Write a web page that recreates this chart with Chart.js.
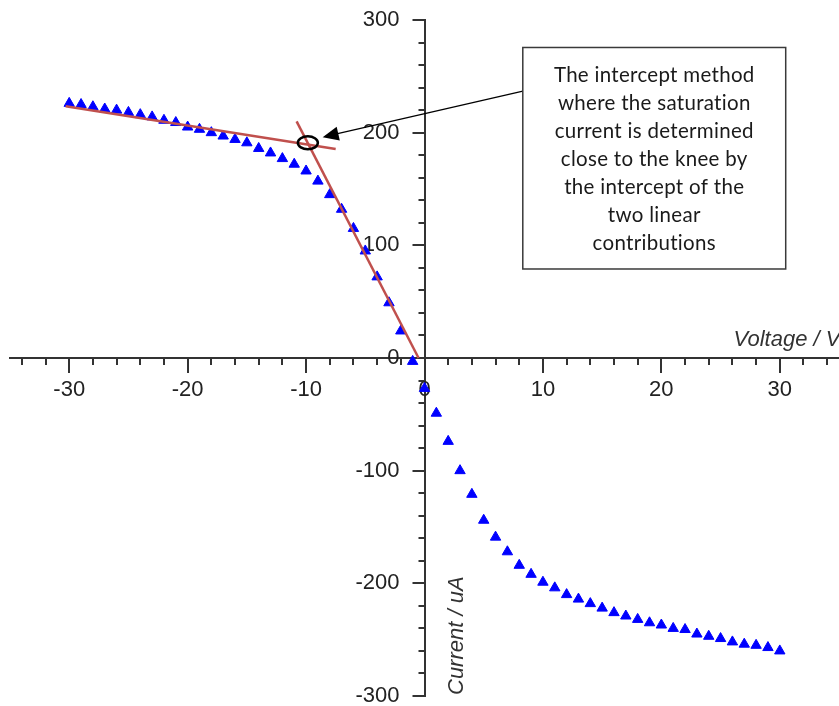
<!DOCTYPE html>
<html>
<head>
<meta charset="utf-8">
<title>Probe current vs voltage</title>
<script src="https://cdn.jsdelivr.net/npm/chart.js@4.4.1/dist/chart.umd.min.js"></script>
<style>
    html, body { margin: 0; padding: 0; background: #fff; }
    #wrap { width: 839px; height: 706px; position: relative; }
</style>
</head>
<body>
<div id="wrap"><canvas id="chart"></canvas></div>
<script>
// ---- Data ----
const negVoltage = [-30, -29, -28, -27, -26, -25, -24, -23, -22, -21, -20, -19, -18, -17, -16,
    -15, -14, -13, -12, -11, -10, -9, -8, -7, -6, -5, -4, -3, -2, -1];
const negCurrent = [226, 225, 223, 221, 220, 218, 216, 214, 211, 209, 205, 203, 200, 197, 194,
    191, 186, 182, 177, 172, 166, 157, 145, 132, 115, 95, 72, 49, 24, -3];
const posVoltage = [0, 1, 2, 3, 4, 5, 6, 7, 8, 9, 10, 11, 12, 13, 14, 15,
    16, 17, 18, 19, 20, 21, 22, 23, 24, 25, 26, 27, 28, 29, 30];
const posCurrent = [-27, -49, -74, -100, -121, -144, -159, -172, -184, -192, -199, -204, -210, -214, -218, -222,
    -226, -229, -232, -235, -237, -240, -241, -245, -247, -249, -252, -254, -255, -257, -260];

// two straight-line fits
const flatFitV = [-30.3, -7.5];
const flatFitI = [223.4, 185.5];
const steepFitV = [-10.8, -0.5];
const steepFitI = [210, 0];

// axes
const xTickValues = [-30, -20, -10, 0, 10, 20, 30];
const yTickValues = [-300, -200, -100, 0, 100, 200, 300];
const xTitle = "Voltage / V";
const yTitle = "Current / uA";

const noteLines = [
    "The intercept method",
    "where the saturation",
    "current is determined",
    "close to the knee by",
    "the intercept of the",
    "two linear",
    "contributions",
];

// ---- Style ----
const BLUE = "#0000ff";
const FIT_RED = "#c0504d";
const AXIS = "#333333";
const LABEL = "#222222";
const SANS = "'Liberation Sans', Arial, sans-serif";

// annotation placement, in data units
const NOTE = {
    box: { v1: 8.3, v2: 30.5, i1: 275.6, i2: 79 },
    arrowFrom: { v: 8.4, i: 237 },
    arrowTo: { v: -8.6, i: 196 },
    knee: { v: -9.85, i: 191 },
};

const toPoints = (xs, ys) => xs.map((v, k) => ({ x: v, y: ys[k] }));

// ---- Plugin: crossing-axis ticks and labels, axis titles, callout ----
const decorations = {
    id: "decorations",
    beforeDatasetsDraw(chart) {
        const { ctx, scales: { x, y } } = chart;
        const x0 = x.getPixelForValue(0);
        const y0 = y.getPixelForValue(0);
        ctx.save();

        // minor + major tick marks
        ctx.strokeStyle = AXIS;
        ctx.lineWidth = 2;
        ctx.beginPath();
        for (let v = x.min + 1; v < x.max; v += 2) {
            const px = Math.round(x.getPixelForValue(v));
            const len = v % 10 === 0 ? 15 : 7;
            ctx.moveTo(px, y0);
            ctx.lineTo(px, y0 + len);
        }
        for (let v = y.min; v <= y.max; v += 20) {
            const py = Math.round(y.getPixelForValue(v));
            const len = v % 100 === 0 ? 12 : 6;
            ctx.moveTo(x0, py);
            ctx.lineTo(x0 - len, py);
        }
        ctx.stroke();

        // tick labels
        ctx.fillStyle = LABEL;
        ctx.font = "22px " + SANS;
        ctx.textBaseline = "middle";
        ctx.textAlign = "center";
        xTickValues.forEach((v) => ctx.fillText(String(v), x.getPixelForValue(v), y0 + 32));
        ctx.textAlign = "right";
        yTickValues.forEach((v) => ctx.fillText(String(v), x0 - 25, y.getPixelForValue(v)));

        // axis titles
        ctx.fillStyle = AXIS;
        ctx.font = "italic 22px " + SANS;
        ctx.textAlign = "left";
        ctx.textBaseline = "alphabetic";
        ctx.fillText(xTitle, x.getPixelForValue(26.1), y0 - 12);
        ctx.translate(x0 + 38, chart.chartArea.bottom - 1);
        ctx.rotate(-Math.PI / 2);
        ctx.fillText(yTitle, 0, 0);
        ctx.restore();
    },
    afterDatasetsDraw(chart) {
        const { ctx, scales: { x, y } } = chart;
        ctx.save();

        // circle round the knee
        ctx.strokeStyle = "#000";
        ctx.lineWidth = 2.5;
        ctx.beginPath();
        ctx.ellipse(x.getPixelForValue(NOTE.knee.v), y.getPixelForValue(NOTE.knee.i), 10, 6.5, 0, 0, Math.PI * 2);
        ctx.stroke();

        // arrow
        const ax = x.getPixelForValue(NOTE.arrowFrom.v), ay = y.getPixelForValue(NOTE.arrowFrom.i);
        const bx = x.getPixelForValue(NOTE.arrowTo.v), by = y.getPixelForValue(NOTE.arrowTo.i);
        const ang = Math.atan2(by - ay, bx - ax);
        ctx.lineWidth = 1.3;
        ctx.beginPath();
        ctx.moveTo(ax, ay);
        ctx.lineTo(bx - Math.cos(ang) * 12, by - Math.sin(ang) * 12);
        ctx.stroke();
        ctx.fillStyle = "#000";
        ctx.beginPath();
        ctx.moveTo(bx, by);
        ctx.lineTo(bx - Math.cos(ang) * 16 - Math.sin(ang) * 7, by - Math.sin(ang) * 16 + Math.cos(ang) * 7);
        ctx.lineTo(bx - Math.cos(ang) * 16 + Math.sin(ang) * 7, by - Math.sin(ang) * 16 - Math.cos(ang) * 7);
        ctx.closePath();
        ctx.fill();

        // note box
        const l = x.getPixelForValue(NOTE.box.v1), r = x.getPixelForValue(NOTE.box.v2);
        const t = y.getPixelForValue(NOTE.box.i1), b = y.getPixelForValue(NOTE.box.i2);
        ctx.fillStyle = "#fff";
        ctx.fillRect(l, t, r - l, b - t);
        ctx.strokeStyle = "#3a3a3a";
        ctx.lineWidth = 1.5;
        ctx.strokeRect(l, t, r - l, b - t);
        ctx.fillStyle = "#1a1a1a";
        ctx.font = "20.5px Lato, 'Open Sans', sans-serif";
        ctx.letterSpacing = "0.3px"; // also keeps Lato from joining "ti"
        ctx.textAlign = "center";
        ctx.textBaseline = "middle";
        noteLines.forEach((line, k) => {
            ctx.fillText(line, (l + r) / 2, t + 28 + k * 28);
        });
        ctx.restore();
    },
};

const fitLine = (xs, ys) => ({
    data: toPoints(xs, ys),
    showLine: true,
    borderColor: FIT_RED,
    borderWidth: 2.5,
    pointRadius: 0,
});

const markers = (xs, ys) => ({
    data: toPoints(xs, ys),
    pointStyle: "triangle",
    pointRadius: 6,
    borderWidth: 1,
    borderColor: BLUE,
    backgroundColor: BLUE,
});

new Chart(document.getElementById("chart"), {
    type: "scatter",
    data: {
        datasets: [
            fitLine(flatFitV, flatFitI),
            fitLine(steepFitV, steepFitI),
            markers(negVoltage, negCurrent),
            markers(posVoltage, posCurrent),
        ],
    },
    options: {
        responsive: true,
        maintainAspectRatio: false,
        animation: false,
        layout: { autoPadding: false, padding: { left: 10, right: 0, top: 20, bottom: 10 } },
        plugins: { legend: { display: false }, tooltip: { enabled: false } },
        scales: {
            x: {
                type: "linear",
                min: -35,
                max: 35,
                position: { y: 0 },
                afterBuildTicks: (s) => { s.ticks = xTickValues.map((v) => ({ value: v })); },
                grid: { display: false, drawTicks: false },
                border: { display: true, color: AXIS, width: 2 },
                ticks: { display: false, padding: 0 },
            },
            y: {
                type: "linear",
                min: -300,
                max: 300,
                position: { x: 0 },
                afterBuildTicks: (s) => { s.ticks = yTickValues.map((v) => ({ value: v })); },
                grid: { display: false, drawTicks: false },
                border: { display: true, color: AXIS, width: 2 },
                ticks: { display: false, padding: 0 },
            },
        },
    },
    plugins: [decorations],
});
</script>
</body>
</html>
